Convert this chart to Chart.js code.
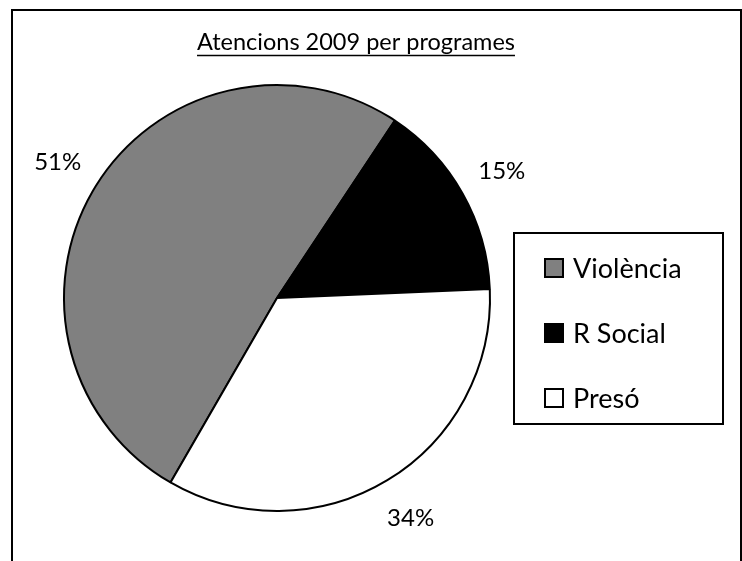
<!DOCTYPE html>
<html>
<head>
<meta charset="utf-8">
<script src="https://cdn.jsdelivr.net/npm/chart.js@4/dist/chart.umd.min.js"></script>
<style>
  html, body { margin: 0; padding: 0; background: #fff; }
  #wrap { position: relative; width: 742px; height: 561px; }
</style>
</head>
<body>
<div id="wrap"><canvas id="c" width="742" height="561"></canvas></div>
<script>
const chartTitle = "Atencions 2009 per programes";
const categories = ["Violència", "R Social", "Presó"];
const values = [51, 15, 34];
const sliceColors = ["#808080", "#000000", "#ffffff"];

const FONT = "Lato, 'Open Sans', sans-serif";

const decorPlugin = {
  id: 'decor',
  beforeDraw(chart) {
    const ctx = chart.ctx;
    ctx.save();
    ctx.fillStyle = '#fff';
    ctx.fillRect(0, 0, chart.width, chart.height);
    // outer frame (no bottom edge)
    ctx.strokeStyle = '#000';
    ctx.lineWidth = 2;
    ctx.beginPath();
    ctx.moveTo(12, chart.height + 2);
    ctx.lineTo(12, 10);
    ctx.lineTo(741, 10);
    ctx.lineTo(741, chart.height + 2);
    ctx.stroke();
    // title
    ctx.fillStyle = '#000';
    ctx.font = "23.5px " + FONT;
    ctx.textAlign = 'center';
    ctx.textBaseline = 'alphabetic';
    ctx.fillText(chartTitle, 356, 50);
    const w = ctx.measureText(chartTitle).width;
    ctx.lineWidth = 1.5;
    ctx.beginPath();
    ctx.moveTo(356 - w / 2, 55.5);
    ctx.lineTo(356 + w / 2, 55.5);
    ctx.stroke();
    ctx.restore();
  },
  afterDraw(chart) {
    const ctx = chart.ctx;
    const meta = chart.getDatasetMeta(0);
    const data = chart.data.datasets[0].data;
    const total = data.reduce((a, b) => a + b, 0);
    ctx.save();
    // percentage labels outside the slices
    ctx.fillStyle = '#000';
    ctx.font = "24px " + FONT;
    ctx.textAlign = 'center';
    ctx.textBaseline = 'middle';
    meta.data.forEach((arc, i) => {
      const p = arc.getProps(['x', 'y', 'startAngle', 'endAngle', 'outerRadius'], true);
      const mid = (p.startAngle + p.endAngle) / 2;
      const r = p.outerRadius + 45;
      const x = p.x + Math.cos(mid) * r;
      const y = p.y + Math.sin(mid) * r;
      ctx.fillText(Math.round(data[i] / total * 100) + '%', x, y);
    });
    // legend box
    const bx = 514, by = 233, bw = 209, bh = 191;
    ctx.strokeStyle = '#000';
    ctx.lineWidth = 2;
    ctx.strokeRect(bx, by, bw, bh);
    ctx.font = "27px " + FONT;
    ctx.textAlign = 'left';
    ctx.textBaseline = 'middle';
    chart.data.labels.forEach((lab, i) => {
      const cy = 268 + i * 65;
      ctx.fillStyle = chart.data.datasets[0].backgroundColor[i];
      ctx.fillRect(545, cy - 9, 18, 18);
      ctx.strokeStyle = '#000';
      ctx.lineWidth = 2;
      ctx.strokeRect(545, cy - 9, 18, 18);
      ctx.fillStyle = '#000';
      ctx.fillText(lab, 573, cy + 1);
    });
    ctx.restore();
  }
};

new Chart(document.getElementById('c'), {
  type: 'pie',
  data: {
    labels: categories,
    datasets: [{
      data: values,
      backgroundColor: sliceColors,
      borderColor: '#000',
      borderWidth: 2,
      hoverOffset: 0,
      offset: 0
    }]
  },
  options: {
    responsive: false,
    animation: false,
    events: [],
    rotation: 210,
    layout: { padding: { left: 63, right: 251, top: 84, bottom: 49 } },
    plugins: {
      legend: { display: false },
      title: { display: false },
      tooltip: { enabled: false }
    }
  },
  plugins: [decorPlugin]
});
</script>
</body>
</html>
